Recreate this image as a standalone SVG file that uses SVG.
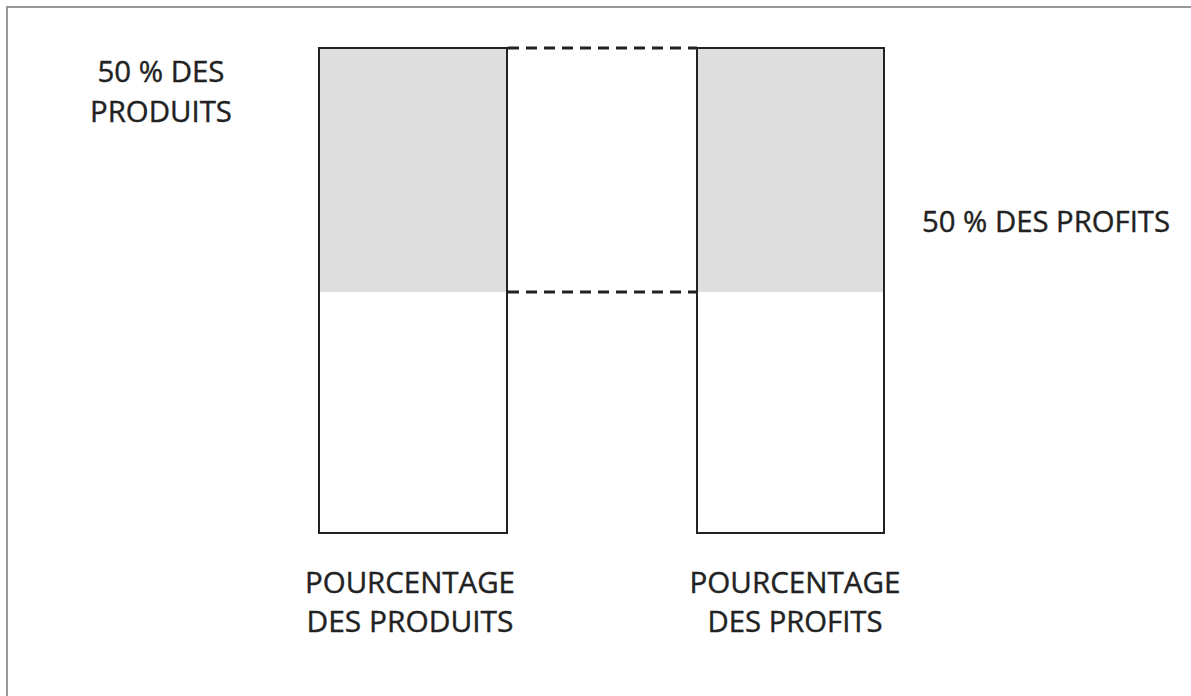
<svg xmlns="http://www.w3.org/2000/svg" width="1191" height="696" viewBox="0 0 1191 696">
  <style>
    .lbl { font-family: "Open Sans", "Liberation Sans", sans-serif; font-size: 29px; fill: #222; stroke: #222; stroke-width: 0.4; }
    .bar { fill: #ffffff; stroke: #222; stroke-width: 2; }
    .shade { fill: #dedede; stroke: none; }
    .dash { stroke: #222; stroke-width: 3; stroke-dasharray: 11 7; fill: none; }
    .frame { stroke: #999; stroke-width: 2; fill: none; }
  </style>
  <rect width="1191" height="696" fill="#ffffff"/>
  <path class="frame" d="M7,696 V7 H1191"/>

  <g id="bar-produits">
    <rect class="bar" x="319" y="48" width="188" height="485"/>
    <rect class="shade" x="320" y="49" width="186" height="243"/>
    <text class="lbl" x="410" y="593" text-anchor="middle" textLength="210" lengthAdjust="spacingAndGlyphs">POURCENTAGE</text>
    <text class="lbl" x="410" y="632" text-anchor="middle" textLength="207" lengthAdjust="spacingAndGlyphs">DES PRODUITS</text>
  </g>

  <g id="bar-profits">
    <rect class="bar" x="697" y="48" width="187" height="485"/>
    <rect class="shade" x="698" y="49" width="185" height="243"/>
    <text class="lbl" x="795" y="593" text-anchor="middle" textLength="211" lengthAdjust="spacingAndGlyphs">POURCENTAGE</text>
    <text class="lbl" x="795" y="632" text-anchor="middle" textLength="175" lengthAdjust="spacingAndGlyphs">DES PROFITS</text>
  </g>

  <g id="label-produits">
    <text class="lbl" x="161" y="82" text-anchor="middle" textLength="127" lengthAdjust="spacingAndGlyphs">50 % DES</text>
    <text class="lbl" x="161" y="122" text-anchor="middle" textLength="142" lengthAdjust="spacingAndGlyphs">PRODUITS</text>
  </g>

  <g id="label-profits">
    <text class="lbl" x="922" y="232" textLength="248" lengthAdjust="spacingAndGlyphs">50 % DES PROFITS</text>
  </g>

  <g id="connectors">
    <line class="dash" x1="508" y1="48" x2="697" y2="48"/>
    <line class="dash" x1="508" y1="292" x2="697" y2="292"/>
  </g>
</svg>
